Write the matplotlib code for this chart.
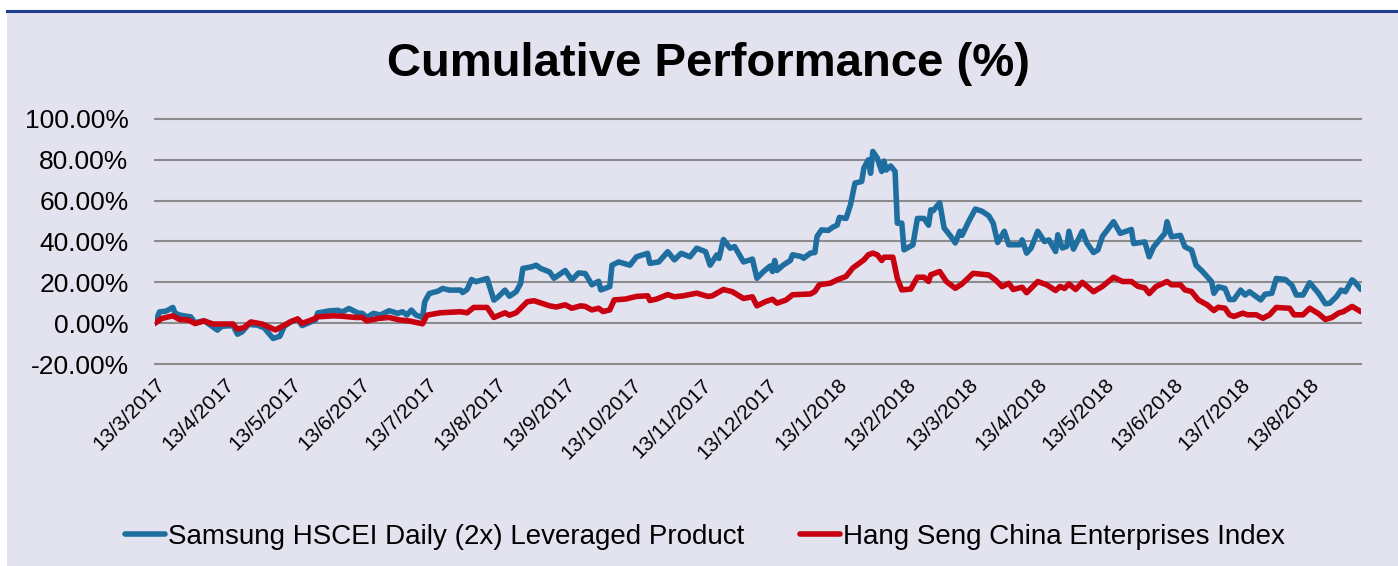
import matplotlib
matplotlib.use('Agg')
import matplotlib.pyplot as plt
from matplotlib.patches import Rectangle
from matplotlib.lines import Line2D
import numpy as np
import pandas as pd

plt.rcParams['font.family'] = ['Liberation Sans', 'DejaVu Sans']

# Data (days since 13/3/2017, cumulative %)
start = pd.Timestamp('2017-03-13')

samsung_days = [0, 2, 5, 8, 9, 11, 14, 16, 18, 22, 24, 28, 30, 35, 37, 39, 42, 46, 49, 53,
                56, 58, 61, 64, 66, 70, 72, 73, 78, 82, 84, 87, 91, 93, 95, 98, 101, 105, 109, 111,
                113, 115, 117, 120, 121, 123, 127, 129, 132, 137, 138, 140, 142, 144, 149, 152, 154, 157, 159, 162,
                164, 165, 169, 171, 173, 177, 179, 184, 187, 190, 193, 196, 199, 200, 204, 205, 208, 213, 216, 221,
                222, 226, 230, 233, 236, 240, 243, 247, 249, 252, 253, 255, 258, 260, 264, 267, 268, 270, 273, 276,
                277, 278, 279, 282, 285, 286, 290, 291, 294, 296, 297, 299, 302, 304, 306, 307, 310, 312, 314, 317,
                318, 320, 321, 322, 324, 326, 327, 328, 330, 332, 333, 335, 336, 340, 342, 345, 347, 348, 349, 352,
                354, 357, 359, 361, 362, 365, 368, 371, 374, 376, 378, 381, 383, 388, 389, 391, 393, 396, 399, 401,
                404, 405, 407, 409, 410, 412, 416, 418, 421, 423, 425, 430, 433, 438, 439, 444, 446, 448, 453, 454,
                456, 460, 462, 465, 467, 470, 474, 475, 477, 480, 482, 484, 487, 489, 491, 494, 496, 498, 501, 503,
                507, 510, 512, 515, 518, 522, 525, 527, 530, 532, 534, 537, 538, 541]
samsung_vals = [0.0, 5.5, 5.9, 7.7, 4.9, 4.0, 3.4, 3.1, 0.2, 1.2, -0.3, -3.4, -1.5, -1.2, -5.4, -4.3, -0.6, -1.0, -2.3, -7.5,
                -6.4, -1.5, 0.7, 1.8, -1.2, 0.7, 1.6, 5.0, 6.0, 6.3, 5.5, 7.2, 5.0, 4.8, 2.8, 4.8, 4.0, 6.1, 4.8, 5.6,
                4.0, 6.4, 4.0, 2.8, 10.5, 14.5, 15.7, 17.0, 16.2, 16.2, 15.0, 16.5, 21.4, 20.3, 21.9, 11.3, 12.9, 16.2, 13.2, 15.4,
                19.4, 26.8, 27.6, 28.4, 26.8, 25.1, 22.0, 25.8, 21.2, 24.6, 24.3, 18.8, 20.5, 16.3, 17.9, 28.4, 30.0, 28.4, 32.5, 34.2,
                29.3, 30.0, 35.0, 31.0, 34.2, 32.5, 36.7, 35.0, 28.4, 33.4, 31.7, 41.0, 36.7, 37.5, 30.0, 31.0, 31.4, 22.0, 25.3, 28.0,
                25.3, 30.7, 25.8, 28.6, 30.7, 33.5, 32.6, 31.8, 34.3, 34.6, 42.5, 45.7, 45.4, 47.0, 48.0, 51.8, 51.3, 58.0, 68.6, 69.4,
                76.0, 80.0, 73.4, 84.1, 80.9, 74.3, 79.4, 75.0, 77.0, 74.3, 49.0, 49.0, 35.9, 38.4, 51.3, 51.3, 48.0, 55.5, 55.0, 59.0,
                46.6, 42.5, 39.3, 45.0, 43.0, 49.8, 55.9, 54.8, 52.6, 49.0, 39.5, 45.0, 38.4, 38.4, 40.8, 34.3, 36.8, 45.0, 40.0, 40.8,
                35.1, 43.3, 36.8, 37.6, 45.0, 36.3, 45.0, 39.3, 34.6, 35.9, 42.5, 49.7, 44.0, 45.9, 39.0, 39.8, 32.5, 37.4, 44.0, 49.7,
                42.3, 43.0, 37.4, 35.8, 28.4, 25.2, 20.3, 14.6, 17.8, 17.0, 11.6, 11.6, 16.2, 13.8, 15.4, 13.0, 11.4, 14.2, 14.6, 21.9,
                21.4, 18.6, 13.8, 13.8, 19.8, 14.6, 9.5, 9.8, 13.0, 16.2, 15.4, 21.2, 20.4, 16.5]

hscei_days = [0, 3, 8, 11, 15, 18, 22, 26, 35, 37, 40, 43, 48, 54, 57, 61, 64, 66, 71, 73,
              80, 84, 90, 93, 95, 100, 105, 110, 114, 120, 122, 128, 137, 140, 143, 149, 152, 157, 159, 162,
              167, 170, 174, 177, 180, 184, 187, 191, 193, 196, 199, 201, 204, 206, 211, 216, 221, 222, 225, 230,
              233, 237, 243, 248, 250, 255, 259, 264, 268, 270, 274, 277, 279, 283, 286, 294, 296, 298, 303, 306,
              310, 313, 316, 318, 320, 322, 324, 326, 327, 331, 333, 335, 339, 342, 345, 347, 348, 352, 355, 359,
              362, 367, 374, 377, 380, 383, 385, 389, 391, 396, 400, 404, 406, 408, 410, 413, 416, 421, 425, 430,
              434, 438, 441, 444, 446, 449, 454, 456, 460, 462, 465, 468, 472, 475, 477, 480, 482, 484, 488, 490,
              494, 497, 500, 503, 509, 511, 515, 518, 522, 525, 528, 531, 533, 537, 541]
hscei_vals = [0.0, 2.3, 3.6, 1.8, 1.5, -0.2, 1.1, -0.4, -0.4, -2.9, -2.1, 0.6, -0.4, -3.3, -1.6, 0.8, 2.1, -0.1, 1.9, 3.1,
              3.6, 3.4, 2.8, 2.8, 1.1, 2.3, 2.8, 1.5, 1.1, -0.3, 3.9, 5.1, 5.6, 5.1, 7.7, 7.7, 2.8, 5.1, 3.9, 5.1,
              10.5, 11.0, 9.6, 8.5, 7.9, 9.0, 7.3, 8.5, 8.2, 6.5, 7.3, 5.7, 6.5, 11.4, 11.8, 13.1, 13.4, 11.1, 11.8, 14.0,
              12.9, 13.4, 14.7, 13.1, 13.4, 16.5, 15.4, 12.1, 12.9, 8.5, 10.6, 11.7, 9.8, 11.3, 13.9, 14.3, 15.5, 18.8, 19.6, 21.2,
              22.9, 27.0, 29.4, 31.0, 33.5, 34.3, 33.5, 30.7, 32.3, 32.3, 22.0, 16.3, 16.7, 22.5, 22.5, 20.4, 23.7, 25.3, 20.4, 17.1,
              19.2, 24.4, 23.6, 21.2, 17.9, 19.5, 16.5, 17.6, 14.9, 20.4, 18.8, 16.0, 18.0, 17.0, 19.2, 16.5, 20.0, 15.4, 18.0, 22.5,
              20.4, 20.4, 18.0, 17.3, 14.5, 17.9, 20.4, 18.8, 18.8, 16.3, 15.5, 11.4, 9.0, 6.2, 7.8, 7.3, 4.1, 3.3, 4.9, 4.1,
              4.1, 2.4, 4.1, 7.7, 7.3, 4.1, 4.1, 7.3, 4.6, 1.8, 2.8, 5.0, 5.6, 8.2, 5.6]

series_names = ['Samsung HSCEI Daily (2x) Leveraged Product', 'Hang Seng China Enterprises Index']
tick_dates = pd.date_range('2017-03-01', '2018-08-01', freq='MS') + pd.Timedelta(days=12)
end_day = 541

samsung_dates = start + pd.to_timedelta(samsung_days, unit='D')
hscei_dates = start + pd.to_timedelta(hscei_days, unit='D')

BG = '#E3E3F0'
fig = plt.figure(figsize=(13.98, 5.66), dpi=100)
fig.patch.set_facecolor('white')
fig.patches.append(Rectangle((7 / 1398, 0), 1 - 7 / 1398, 1 - 12 / 566, transform=fig.transFigure,
                             facecolor=BG, edgecolor='none', zorder=-10))
fig.add_artist(Line2D([7 / 1398, 1], [1 - 11 / 566] * 2, color='#1F3E8C', lw=2.2, zorder=-5))

ax = fig.add_axes([155 / 1398, 1 - 364 / 566, (1361 - 155) / 1398, (364 - 119) / 566])
ax.set_zorder(1)
ax.set_facecolor('none')

ax.plot(samsung_dates, samsung_vals, color='#1F6EA0', lw=4.0, solid_joinstyle='round',
        solid_capstyle='round', label=series_names[0], zorder=3)
ax.plot(hscei_dates, hscei_vals, color='#C8000F', lw=4.0, solid_joinstyle='round',
        solid_capstyle='round', label=series_names[1], zorder=4)

ax.set_ylim(-20, 100)
ax.set_yticks(np.arange(-20, 101, 20))
ax.set_yticklabels([f'{v:.2f}%' for v in np.arange(-20, 101, 20)], fontsize=19)
ax.set_xlim(start, start + pd.Timedelta(days=end_day))
ax.set_xticks(tick_dates)
ax.set_xticklabels([f'{d.day}/{d.month}/{d.year}' for d in tick_dates], fontsize=15,
                   rotation=45, ha='right', rotation_mode='anchor')
ax.tick_params(axis='y', length=0, pad=19)
ax.tick_params(axis='x', length=0, pad=8)
ax.grid(axis='y', color='#8C8C8C', lw=1.5)
ax.set_axisbelow(True)
for gl in ax.get_ygridlines():
    gl.set_clip_on(False)
for s in ax.spines.values():
    s.set_visible(False)

fig.text(0.507, 1 - 64 / 566, 'Cumulative Performance (%)', fontsize=34, fontweight='bold',
         ha='center', va='center')

leg = fig.legend(loc='center', bbox_to_anchor=(0.504, 1 - 537 / 566), ncol=2, frameon=False,
                 fontsize=20, handlelength=1.45, handletextpad=0.1, columnspacing=2.0)
for h in leg.get_lines():
    h.set_solid_capstyle('round')

fig.savefig('out.png', dpi=100, facecolor=fig.get_facecolor())
